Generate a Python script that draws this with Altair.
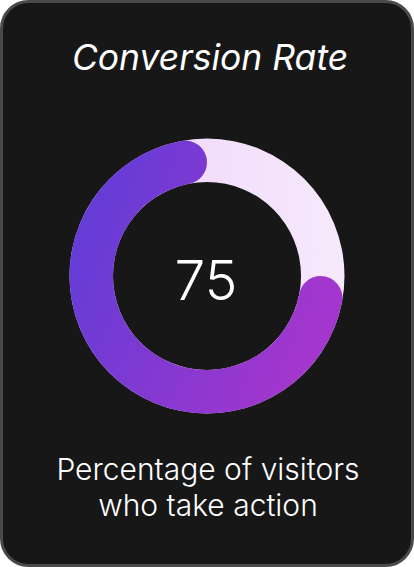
import math
import altair as alt
import pandas as pd

# KPI card: conversion rate shown as a progress ring
title_text = "Conversion Rate"
rate_value = [75]
ring_max = [100]
caption_lines = ["Percentage of visitors", "who take action"]

FONT = "Inter"
W, H = 414, 567
CX, CY = 207, 276
R_OUT, R_IN = 137.5, 94

theta_scale = alt.Scale(domain=[0, ring_max[0]], range=[2 * math.pi, 0])

card = alt.Chart(pd.DataFrame({"k": [0]})).mark_rect(
    fill="#171717", stroke="#4a4a4a", strokeWidth=3, cornerRadius=27
).encode(
    x=alt.value(1.5), x2=alt.value(W - 1.5),
    y=alt.value(1.5), y2=alt.value(H - 1.5),
)

track_df = pd.DataFrame({"start": [0], "end": ring_max})
track = alt.Chart(track_df).mark_arc(
    radius=R_OUT, radius2=R_IN,
    color=alt.Gradient(
        gradient="linear", x1=0, x2=1, y1=0, y2=0,
        stops=[alt.GradientStop(offset=0, color="#ead2f8"),
               alt.GradientStop(offset=0.5, color="#f2defb"),
               alt.GradientStop(offset=1, color="#f7e9fc")],
    ),
).encode(
    theta=alt.Theta("start:Q", scale=theta_scale),
    theta2="end:Q",
    x=alt.value(CX), y=alt.value(CY),
)

progress_df = pd.DataFrame({"start": [0], "end": rate_value})
progress = alt.Chart(progress_df).mark_arc(
    radius=R_OUT, radius2=R_IN, cornerRadius=(R_OUT - R_IN) / 2,
    color=alt.Gradient(
        gradient="linear", x1=0, x2=1, y1=0, y2=0.4,
        stops=[alt.GradientStop(offset=0, color="#5a3dd8"),
               alt.GradientStop(offset=1, color="#a236cd")],
    ),
).encode(
    theta=alt.Theta("start:Q", scale=theta_scale),
    theta2="end:Q",
    x=alt.value(CX), y=alt.value(CY),
)

value_text = alt.Chart(pd.DataFrame({"v": rate_value})).mark_text(
    font=FONT, fontSize=55, fontWeight=300, color="#ffffff",
    align="center", baseline="alphabetic",
).encode(text="v:Q", x=alt.value(CX - 1), y=alt.value(300))

title = alt.Chart(pd.DataFrame({"t": [title_text]})).mark_text(
    font=FONT, fontSize=35.5, fontStyle="italic", fontWeight=400, color="#ffffff",
    align="center", baseline="alphabetic",
).encode(text="t:N", x=alt.value(W / 2 + 3), y=alt.value(70))

cap_df = pd.DataFrame({"line": caption_lines, "i": list(range(len(caption_lines)))})
caption = alt.Chart(cap_df).mark_text(
    font=FONT, fontSize=30, fontWeight=300, color="#ffffff",
    align="center", baseline="alphabetic",
).encode(
    text="line:N",
    x=alt.value(W / 2 + 1),
    y=alt.Y("i:Q", scale=alt.Scale(domain=[0, 1], range=[480, 516]), axis=None),
)

chart = alt.layer(card, track, progress, value_text, title, caption).properties(
    width=W, height=H, padding=0, autosize="none", background="#ffffff",
).configure_view(stroke=None)

chart.save("out.html", embed_options={"renderer": "svg", "actions": False})
